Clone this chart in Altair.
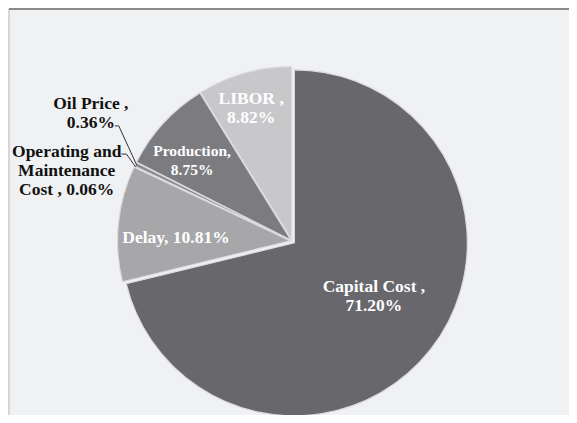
import altair as alt
import numpy as np
import pandas as pd

# ---- data ----
categories = ["Capital Cost", "Delay", "Operating and Maintenance Cost",
              "Oil Price", "Production", "LIBOR"]
shares = [71.20, 10.81, 0.06, 0.36, 8.75, 8.82]
label_texts = ["Capital Cost ,\n71.20%", "Delay, 10.81%",
               "Operating and\nMaintenance\nCost , 0.06%",
               "Oil Price ,\n0.36%", "Production,\n8.75%", "LIBOR ,\n8.82%"]

# ---- styling / layout ----
slice_colors = ["#68686c", "#a7a7aa", "#8c8c90", "#8c8c90", "#7c7c80", "#c8c8cb"]
label_colors = ["#ffffff", "#ffffff", "#111111", "#111111", "#ffffff", "#ffffff"]
label_sizes = [17.5, 17.5, 17.5, 17.5, 15.5, 17.5]
CX, CY, R = 283, 232, 173
LH = 19
explode = [3.0, 1.5, 1.0, 1.0, 1.5, 1.5]
label_shift_deg = [-4.0, -4.3, -8.0, 6.2, -3.8, -1.2]
label_radius = [99, 116, 236, 238, 128, 139]
W, H = 561, 407

ends = np.cumsum(shares)
starts = ends - np.array(shares)
df = pd.DataFrame({
    "category": categories,
    "share": shares,
    "start": starts,
    "end": ends,
    "label": label_texts,
    "tcolor": label_colors,
    "fs": label_sizes,
    "explode": explode,
    "lshift": label_shift_deg,
    "lr": label_radius,
})

# leader lines for the two small outside-labelled slices
leader_cats = ["Operating and Maintenance Cost", "Oil Price"]
elbow_angle = [297.7, 303.6]
elbow_r = [187, 208]
tail = [-5, -4]
rows = []
for c, ea, er, t in zip(leader_cats, elbow_angle, elbow_r, tail):
    i = categories.index(c)
    mid_deg = (starts[i] + ends[i]) / 2 * 3.6
    rows.append({"category": c, "step": 0, "a": mid_deg, "r": R, "dx": 0})
    rows.append({"category": c, "step": 1, "a": ea, "r": er, "dx": 0})
    rows.append({"category": c, "step": 2, "a": ea, "r": er, "dx": t})
lines_df = pd.DataFrame(rows)

theta_scale = alt.Scale(domain=[0, 100])
base = alt.Chart(df).transform_calculate(
    mid="(datum.start + datum.end) / 2",
    nlines="length(split(datum.label, '\\n'))",
).transform_calculate(
    ang="datum.mid / 100 * 2 * PI",
    lang="(datum.mid / 100 * 360 + datum.lshift) * PI / 180",
).transform_calculate(
    cx=f"{CX} + datum.explode * sin(datum.ang)",
    cy=f"{CY} - datum.explode * cos(datum.ang)",
    tx=f"{CX} + datum.lr * sin(datum.lang)",
    ty=f"{CY} - datum.lr * cos(datum.lang) - (datum.nlines - 1) * {LH} / 2",
)

arcs = base.mark_arc(outerRadius=R, stroke="#dcdcdf", strokeWidth=1.2).encode(
    theta=alt.Theta("start:Q", scale=theta_scale),
    theta2="end:Q",
    x=alt.X("cx:Q", scale=None),
    y=alt.Y("cy:Q", scale=None),
    color=alt.Color("category:N",
                    scale=alt.Scale(domain=categories, range=slice_colors),
                    legend=None),
)

texts = base.mark_text(
    font="Liberation Serif", fontWeight="bold",
    lineBreak="\n", lineHeight=LH, align="center", baseline="middle",
).encode(
    x=alt.X("tx:Q", scale=None),
    y=alt.Y("ty:Q", scale=None),
    text="label:N",
    size=alt.Size("fs:Q", scale=None),
    color=alt.Color("tcolor:N", scale=None),
)

leaders = alt.Chart(lines_df).transform_calculate(
    px=f"{CX} + datum.r * sin(datum.a * PI / 180) + datum.dx",
    py=f"{CY} - datum.r * cos(datum.a * PI / 180)",
).mark_line(color="#333333", strokeWidth=1).encode(
    x=alt.X("px:Q", scale=None),
    y=alt.Y("py:Q", scale=None),
    detail="category:N",
    order="step:Q",
)

top_rule = alt.Chart(df).mark_rule(color="#8a8a8a", strokeWidth=2).encode(
    x=alt.value(0), x2=alt.value(W), y=alt.value(0)
)
left_rule = alt.Chart(df).mark_rule(color="#d6d6d9", strokeWidth=1).encode(
    x=alt.value(0), y=alt.value(0), y2=alt.value(H)
)

chart = alt.layer(left_rule, arcs, leaders, texts, top_rule).properties(
    width=W, height=H,
    autosize=alt.AutoSizeParams(type="fit", contains="padding"),
    padding=0,
    background="#f0f1f3",
).configure_view(strokeWidth=0)

chart.save("out.html", embed_options={"renderer": "svg", "actions": False})
